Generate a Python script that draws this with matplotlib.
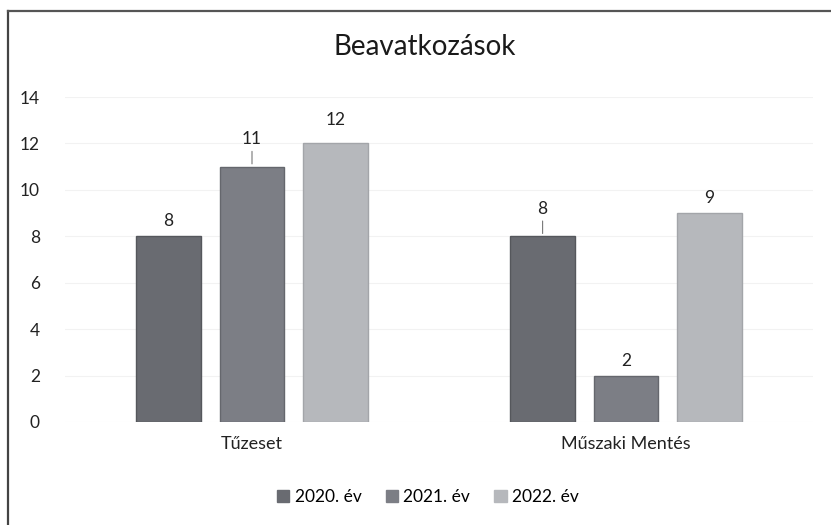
import matplotlib
matplotlib.use("Agg")
import matplotlib.pyplot as plt
import numpy as np
from matplotlib.lines import Line2D

categories = ["Tűzeset", "Műszaki Mentés"]
series_names = ["2020. év", "2021. év", "2022. év"]
v2020 = [8, 8]
v2021 = [11, 2]
v2022 = [12, 9]
yticks = [0, 2, 4, 6, 8, 10, 12, 14]
title = "Beavatkozások"

colors = ["#696b71", "#7c7e85", "#b6b8bc"]
edges = ["#55575c", "#65676d", "#a3a5a9"]
# label offsets (points) and leader-line flags per bar [series][category]
offsets = [[5, 14], [14, 5], [11, 5]]
leaders = [[False, True], [True, False], [False, False]]

plt.rcParams['font.family'] = ['Lato', 'DejaVu Sans']

fig = plt.figure(figsize=(8.31, 5.25), dpi=100)
ax = fig.add_axes([65/831, 1-422/525, (813-65)/831, (422-97)/525])

x = np.arange(len(categories))
w = 0.172
step = 0.223
allvals = [v2020, v2021, v2022]
for i, vals in enumerate(allvals):
    pos = x + (i - 1) * step
    bars = ax.bar(pos, vals, width=w, color=colors[i], edgecolor=edges[i],
                  linewidth=1.0, label=series_names[i], zorder=3)
    for j, (b, v) in enumerate(zip(bars, vals)):
        off = offsets[i][j]
        ax.annotate(str(v), (b.get_x() + b.get_width()/2, v),
                    xytext=(0, off), textcoords="offset points",
                    ha="center", va="bottom", fontsize=12.5, color="#222222")
        if leaders[i][j]:
            ax.annotate("", (b.get_x() + b.get_width()/2, v),
                        xytext=(0, off - 1), textcoords="offset points",
                        arrowprops=dict(arrowstyle="-", color="#777777", lw=0.8))

ax.set_ylim(0, 14)
ax.set_xlim(-0.5, 1.5)
ax.set_yticks(yticks)
ax.set_yticklabels([str(t) for t in yticks], fontsize=12.5, color="#222222")
ax.set_xticks(x)
ax.set_xticklabels(categories, fontsize=13, color="#222222")
ax.tick_params(length=0)
ax.tick_params(axis="y", pad=18)
ax.tick_params(axis="x", pad=10)
for s in ax.spines.values():
    s.set_visible(False)
ax.grid(axis="y", color="#f2f2f2", linewidth=0.8, zorder=0)
ax.set_axisbelow(True)

fig.text(425/831, 1-47/525, title, ha="center", va="center", fontsize=20, color="#1a1a1a")

handles = [plt.Rectangle((0, 0), 1, 1, color=c) for c in colors]
fig.legend(handles, series_names, loc="center", bbox_to_anchor=(428/831, 1-497/525),
           ncol=3, frameon=False, fontsize=12.5, handlelength=0.7, handleheight=0.7,
           handletextpad=0.3, columnspacing=1.4)

# outer border (left and top)
fig.add_artist(Line2D([8/831, 8/831], [0, 1-11/525], color="#444444", lw=1.6,
                      transform=fig.transFigure))
fig.add_artist(Line2D([8/831, 1], [1-11/525, 1-11/525], color="#555555", lw=1.6,
                      transform=fig.transFigure))

fig.savefig("out.png", dpi=100)
